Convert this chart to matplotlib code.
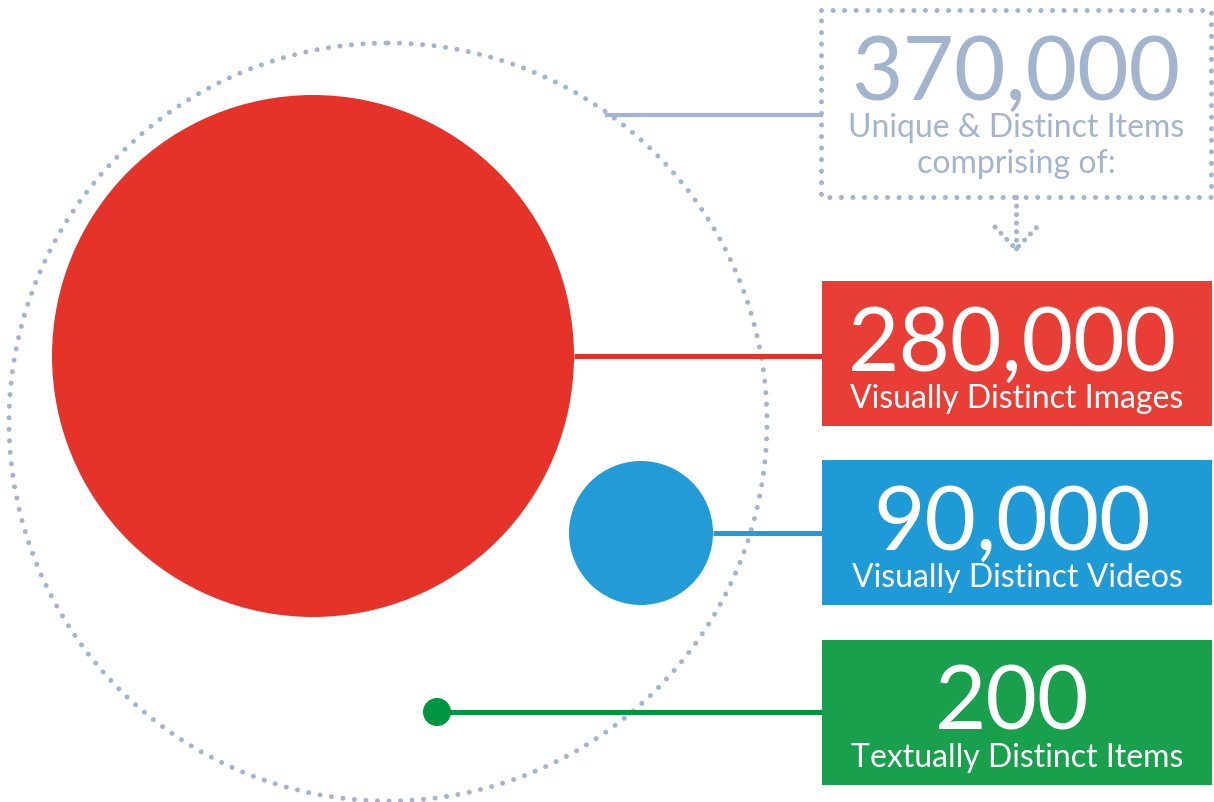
import matplotlib.pyplot as plt
from matplotlib.patches import Circle, Rectangle

# values shown in the boxes
total_label = '370,000'
total_text = ['Unique & Distinct Items', 'comprising of:']
values = [280000, 90000, 200]
value_labels = ['280,000', '90,000', '200']
descriptions = ['Visually Distinct Images', 'Visually Distinct Videos', 'Textually Distinct Items']
box_colors = ['#E93E36', '#1E9BD7', '#18A04D']
mark_colors = ['#E5332A', '#229BD6', '#009640']
grey = '#A3B4CF'

# layout in pixel coordinates (y pointing down)
W, H = 1214, 803
bubble_xy = [(313, 357), (641, 534), (437, 713)]
bubble_r = [261, 72, 14]
box_x0, box_x1 = 822, 1212
box_tops = [282, 461, 641]
box_h = 145

fig = plt.figure(figsize=(W / 100, H / 100), dpi=100)
ax = fig.add_axes([0, 0, 1, 1])
ax.set_xlim(0, W)
ax.set_ylim(H, 0)
ax.axis('off')

font = 'Lato'
dot_lw = 3.6
dots = (0, (0.01, 2.3))

# big dotted circle around everything
ax.add_patch(Circle((388, 423), 379, fill=False, edgecolor=grey, lw=dot_lw,
                    linestyle=dots, capstyle='round'))
# dotted total box
ax.add_patch(Rectangle((821, 11), 390, 187, fill=False, edgecolor=grey, lw=dot_lw,
                       linestyle=dots, capstyle='round'))
# dotted arrow down
ax.plot([1016, 1016], [198, 250], color=grey, lw=dot_lw, ls=(0, (0.01, 1.7)),
        dash_capstyle='round')
ax.plot([995, 1016, 1037], [228, 250, 228], color=grey, lw=dot_lw, ls=(0, (0.01, 1.7)),
        dash_capstyle='round')
# connector from big circle to total box
ax.plot([607, 821], [116, 116], color=grey, lw=3)

ax.text(1016, 100, total_label, fontsize=64, color=grey, family=font,
        ha='center', va='baseline')
ax.text(1016, 137, total_text[0], fontsize=23, color=grey, family=font,
        ha='center', va='baseline')
ax.text(1016, 173, total_text[1], fontsize=23, color=grey, family=font,
        ha='center', va='baseline')

for i in range(len(values)):
    cx, cy = bubble_xy[i]
    r = bubble_r[i]
    ax.plot([cx + r * 0.5 if i == 2 else cx + r, box_x0], [cy, cy],
            color=mark_colors[i], lw=3.6, solid_capstyle='butt', zorder=3)
    ax.add_patch(Circle((cx, cy), r, color=mark_colors[i], lw=0, zorder=4))
    top = box_tops[i]
    ax.add_patch(Rectangle((box_x0, top), box_x1 - box_x0, box_h,
                           color=box_colors[i], lw=0, zorder=5))
    xc = (box_x0 + box_x1) / 2
    ax.text(xc - 5, top + 89, value_labels[i], fontsize=64, color='white',
            family=font, ha='center', va='baseline', zorder=6)
    ax.text(xc, top + 126, descriptions[i], fontsize=23, color='white',
            family=font, ha='center', va='baseline', zorder=6)

fig.savefig('out.png', dpi=100)
